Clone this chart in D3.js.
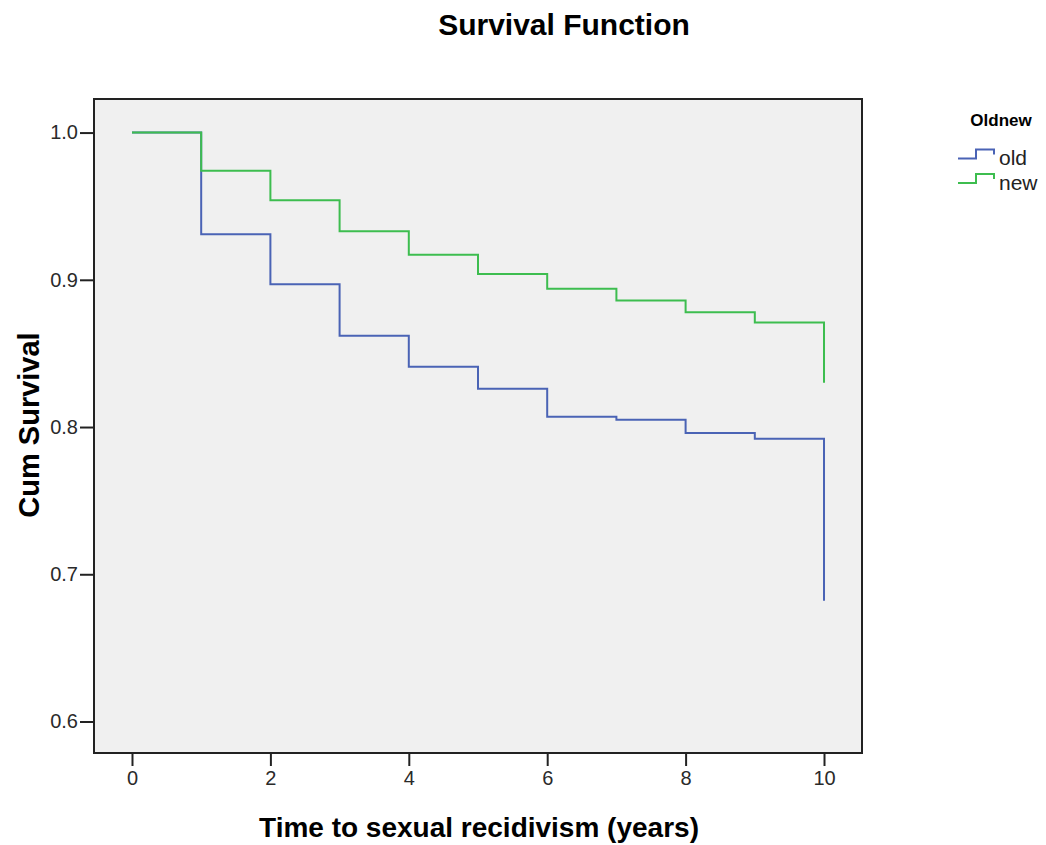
<!DOCTYPE html>
<html>
<head>
<meta charset="utf-8">
<script src="https://cdn.jsdelivr.net/npm/d3@7"></script>
<style>
  body { margin: 0; background: #fff; }
  text { font-family: Arial, "Liberation Sans", sans-serif; }
</style>
</head>
<body>
<svg class="chart"></svg>
<script>
var years = [0, 1, 2, 3, 4, 5, 6, 7, 8, 9, 10];
var oldSurv = [1.0, 0.931, 0.897, 0.862, 0.841, 0.826, 0.807, 0.805, 0.796, 0.792, 0.682];
var newSurv = [1.0, 0.974, 0.954, 0.933, 0.917, 0.904, 0.894, 0.886, 0.878, 0.871, 0.830];
var groups = ["old", "new"];
var colors = ["#4a63b5", "#3dbd4f"];
var xTicks = [0, 2, 4, 6, 8, 10];
var yTicks = [0.6, 0.7, 0.8, 0.9, 1.0];

var width = 1046, height = 845;
var plot = {left: 94, top: 99, right: 862, bottom: 753};

var x = d3.scaleLinear()
    .domain([-0.549, 10.549])
    .range([plot.left, plot.right]);

var y = d3.scaleLinear()
    .domain([0.5786, 1.0228])
    .range([plot.bottom, plot.top]);

var chart = d3.select(".chart")
    .attr("width", width)
    .attr("height", height);

chart.append("rect")
    .attr("x", plot.left)
    .attr("y", plot.top)
    .attr("width", plot.right - plot.left)
    .attr("height", plot.bottom - plot.top)
    .attr("fill", "#f0f0f0");

var line = d3.line()
    .x(function(d) { return x(d[0]); })
    .y(function(d) { return y(d[1]); })
    .curve(d3.curveStepAfter);

var series = [oldSurv, newSurv];
series.forEach(function(s, i) {
  chart.append("path")
      .datum(years.map(function(t, j) { return [t, s[j]]; }))
      .attr("fill", "none")
      .attr("stroke", colors[i])
      .attr("stroke-width", 2)
      .attr("d", line);
});

chart.append("rect")
    .attr("x", plot.left)
    .attr("y", plot.top)
    .attr("width", plot.right - plot.left)
    .attr("height", plot.bottom - plot.top)
    .attr("fill", "none")
    .attr("stroke", "#222")
    .attr("stroke-width", 2);

var xAxis = d3.axisBottom(x).tickValues(xTicks).tickSize(13).tickSizeOuter(0).tickPadding(5);
var yAxis = d3.axisLeft(y).tickValues(yTicks).tickSize(14).tickSizeOuter(0).tickPadding(2)
    .tickFormat(d3.format(".1f"));

var gx = chart.append("g")
    .attr("transform", "translate(0," + plot.bottom + ")")
    .call(xAxis);
var gy = chart.append("g")
    .attr("transform", "translate(" + plot.left + ",0)")
    .call(yAxis);

[gx, gy].forEach(function(g) {
  g.select(".domain").remove();
  g.selectAll(".tick line").attr("stroke", "#222").attr("stroke-width", 2);
  g.selectAll(".tick text")
      .attr("fill", "#2a2a2a")
      .style("font-size", "20px")
      .style("font-family", "Arial, 'Liberation Sans', sans-serif");
});

chart.append("text")
    .attr("x", 564)
    .attr("y", 35)
    .attr("text-anchor", "middle")
    .style("font-size", "30px")
    .style("font-weight", "bold")
    .text("Survival Function");

chart.append("text")
    .attr("x", 479)
    .attr("y", 837)
    .attr("text-anchor", "middle")
    .style("font-size", "28px")
    .style("font-weight", "bold")
    .text("Time to sexual recidivism (years)");

chart.append("text")
    .attr("transform", "translate(39,425) rotate(-90)")
    .attr("text-anchor", "middle")
    .style("font-size", "29px")
    .style("font-weight", "bold")
    .text("Cum Survival");

// legend
chart.append("text")
    .attr("x", 1001)
    .attr("y", 126)
    .attr("text-anchor", "middle")
    .style("font-size", "17px")
    .style("font-weight", "bold")
    .style("font-stretch", "condensed")
    .text("Oldnew");

var legendLine = d3.line();
groups.forEach(function(g, i) {
  var ly = 158.5 + i * 24.5;
  chart.append("path")
      .attr("d", legendLine([[958, ly], [976, ly], [976, ly - 9], [994, ly - 9], [994, ly - 4]]))
      .attr("fill", "none")
      .attr("stroke", colors[i])
      .attr("stroke-width", 2);
  chart.append("text")
      .attr("x", 999)
      .attr("y", ly + 6.5)
      .attr("fill", "#222")
      .style("font-size", "21px")
      .text(g);
});
</script>
</body>
</html>
